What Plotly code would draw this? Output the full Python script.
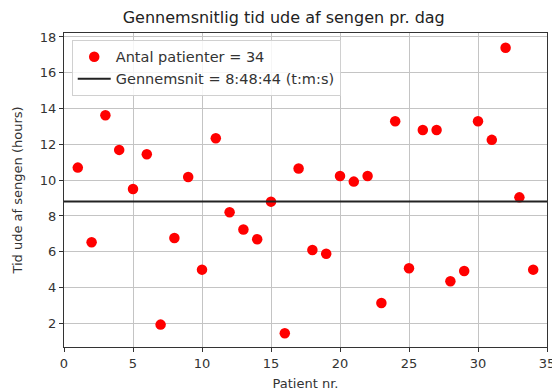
import plotly.graph_objects as go

patients = list(range(1, 35))
hours = [10.70, 6.53, 13.63, 11.69, 9.51, 11.45, 1.93, 6.77, 10.18, 5.00,
         12.34, 8.21, 7.24, 6.70, 8.80, 1.45, 10.65, 6.10, 5.89, 10.23,
         9.92, 10.23, 3.14, 13.29, 5.08, 12.80, 12.80, 4.35, 4.93, 13.29,
         12.25, 17.40, 9.04, 5.00]
mean_hours = 8 + 48/60 + 44/3600
x_limits = [0, 35]
y_limits = [0.68, 18.22]
x_ticks = [0, 5, 10, 15, 20, 25, 30, 35]
y_ticks = [2, 4, 6, 8, 10, 12, 14, 16, 18]

font = "DejaVu Sans, sans-serif"
fig = go.Figure()
fig.add_trace(go.Scatter(
    x=patients, y=hours, mode="markers",
    marker=dict(color="red", size=10.5),
    name="Antal patienter = 34"))
fig.add_trace(go.Scatter(
    x=x_limits, y=[mean_hours, mean_hours], mode="lines",
    line=dict(color="#222222", width=2),
    name="Gennemsnit = 8:48:44 (t:m:s)"))

axis_common = dict(showline=True, mirror=True, linecolor="#333333", linewidth=1.2,
                   ticks="outside", ticklen=4, tickcolor="#333333", automargin=False,
                   showgrid=True, gridcolor="#c4c4c4", gridwidth=1, zeroline=False,
                   tickfont=dict(size=13, color="#333333", family=font))
fig.update_xaxes(range=x_limits, tickvals=x_ticks, **axis_common,
                 title=dict(text="Patient nr.", font=dict(size=13, color="#333333", family=font), standoff=9))
fig.update_yaxes(range=y_limits, tickvals=y_ticks, **axis_common,
                 title=dict(text="Tid ude af sengen (hours)", font=dict(size=13, color="#333333", family=font), standoff=14))

fig.update_layout(
    width=552, height=383,
    margin=dict(l=56, r=13, t=25, b=44),
    paper_bgcolor="white", plot_bgcolor="white",
    font=dict(family=font, color="#333333"),
    title=dict(text="Gennemsnitlig tid ude af sengen pr. dag", x=0.4995, xanchor="center",
               y=0.9765, yanchor="middle", font=dict(size=16, color="#222222", family=font)),
    legend=dict(x=0.016, y=0.978, xanchor="left", yanchor="top",
                bgcolor="rgba(255,255,255,0.85)", bordercolor="#d0d0d0", borderwidth=1,
                font=dict(size=14.5, color="#333333", family=font), itemwidth=33,
                tracegroupgap=0),
    showlegend=True,
)
fig.write_html("out.html")
